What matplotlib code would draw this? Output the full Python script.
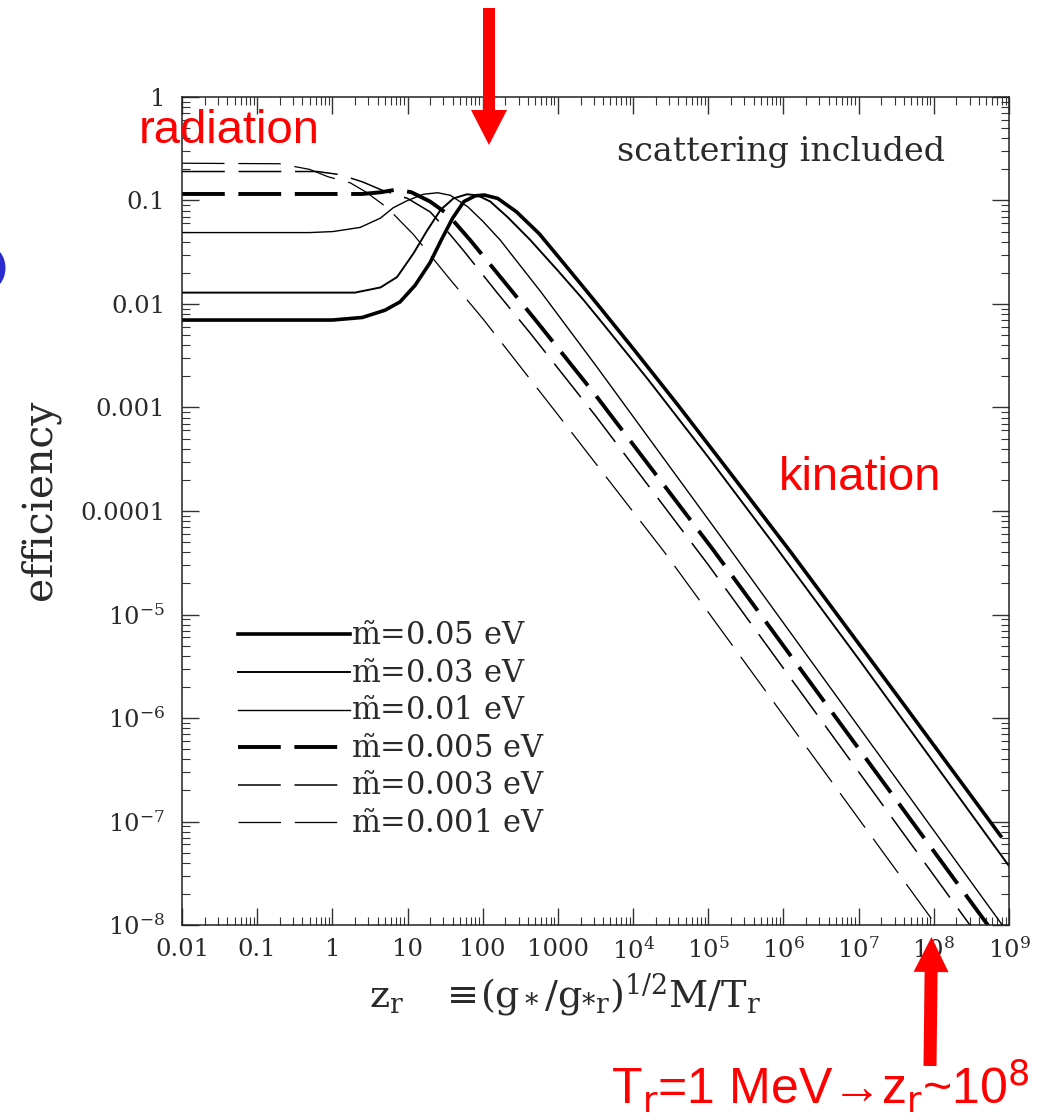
import numpy as np
import matplotlib
matplotlib.use("Agg")
import matplotlib.pyplot as plt
from matplotlib.patches import FancyArrow, Ellipse
from matplotlib.ticker import FixedLocator, FixedFormatter, LogLocator, NullFormatter

plt.rcParams["font.family"] = "DejaVu Serif"
plt.rcParams["mathtext.fontset"] = "dejavuserif"

# ── Curves: log10(z_r) and log10(efficiency) ─────────────────────────────────
LABELS = [r"$\tilde{\mathrm{m}}$=0.05 eV", r"$\tilde{\mathrm{m}}$=0.03 eV",
          r"$\tilde{\mathrm{m}}$=0.01 eV", r"$\tilde{\mathrm{m}}$=0.005 eV",
          r"$\tilde{\mathrm{m}}$=0.003 eV", r"$\tilde{\mathrm{m}}$=0.001 eV"]

LZ_005 = [-2, 0.0, 0.4, 0.7, 0.9, 1.1, 1.3, 1.45, 1.6, 1.75, 1.9, 2.02, 2.2, 2.45, 2.75, 3.07, 3.5, 4.0, 4.6, 5.3, 6.1, 7.5, 8.89]
LE_005 = [-2.155, -2.155, -2.13, -2.06, -1.98, -1.82, -1.6, -1.38, -1.17, -1.01, -0.955, -0.947, -0.98, -1.11, -1.32, -1.6, -1.98, -2.43, -2.98, -3.64, -4.4, -5.77, -7.14]

LZ_003 = [-2, 0.3, 0.64, 0.86, 1.08, 1.26, 1.44, 1.61, 1.79, 1.93, 2.1, 2.33, 2.63, 2.99, 3.34, 3.61, 4.2, 5.0, 5.86, 7.0, 9.0]
LE_003 = [-1.89, -1.89, -1.84, -1.74, -1.51, -1.29, -1.09, -0.98, -0.94, -0.95, -1.01, -1.16, -1.38, -1.67, -1.96, -2.2, -2.73, -3.48, -4.31, -5.43, -7.43]

LZ_001 = [-2, -0.3, 0.01, 0.37, 0.64, 0.81, 1.0, 1.21, 1.4, 1.57, 1.8, 2.0, 2.23, 2.77, 3.5, 5.3, 9.0]
LE_001 = [-1.31, -1.31, -1.3, -1.26, -1.17, -1.07, -1.0, -0.94, -0.925, -0.95, -1.06, -1.2, -1.38, -1.88, -2.59, -4.38, -8.09]

LZ_0005 = [-2, 0.4, 0.65, 0.85, 1.05, 1.3, 1.53, 1.83, 2.27, 2.73, 3.5, 5.07, 9.0]
LE_0005 = [-0.937, -0.937, -0.92, -0.895, -0.92, -1.01, -1.13, -1.38, -1.77, -2.18, -2.88, -4.38, -8.28]

LZ_0003 = [-2, -0.2, 0.1, 0.4, 0.66, 1.0, 1.3, 1.44, 1.74, 2.19, 2.63, 3.5, 5.0, 9.0]
LE_0003 = [-0.72, -0.72, -0.75, -0.82, -0.9, -0.98, -1.11, -1.22, -1.48, -1.89, -2.28, -3.08, -4.52, -8.52]

LZ_0001 = [-2, -0.7, -0.3, -0.06, 0.24, 0.45, 0.6, 0.73, 1.08, 1.54, 2.01, 3.0, 4.43, 8.1]
LE_0001 = [-0.64, -0.645, -0.7, -0.77, -0.83, -0.92, -1.0, -1.07, -1.33, -1.74, -2.15, -3.07, -4.41, -8.07]

X_TICKS = [1e-2, 1e-1, 1, 10, 100, 1000, 1e4, 1e5, 1e6, 1e7, 1e8, 1e9]
X_TICKLABELS = ["0.01", "0.1", "1", "10", "100", "1000", r"$10^4$", r"$10^5$",
                r"$10^6$", r"$10^7$", r"$10^8$", r"$10^9$"]
Y_TICKS = [1e-8, 1e-7, 1e-6, 1e-5, 1e-4, 1e-3, 1e-2, 1e-1, 1]
Y_TICKLABELS = [r"$10^{-8}$", r"$10^{-7}$", r"$10^{-6}$", r"$10^{-5}$", "0.0001",
                "0.001", "0.01", "0.1", "1"]

# (log z, log eff, linewidth, dashes)
CURVES = [
    (LZ_005, LE_005, 2.6, None),
    (LZ_003, LE_003, 1.4, None),
    (LZ_001, LE_001, 1.0, None),
    (LZ_0005, LE_0005, 2.8, (11, 3.5)),
    (LZ_0003, LE_0003, 1.1, (28, 9)),
    (LZ_0001, LE_0001, 0.9, (34, 11)),
]

TXT = "#2a2a2a"

fig = plt.figure(figsize=(10.43, 11.2), dpi=100)
ax = fig.add_axes([0.1745, 0.1741, 0.7929, 0.7393])

for (lz, le, lw, dash), label in zip(CURVES, LABELS):
    z = 10 ** np.array(lz)
    eff = 10 ** np.array(le)
    if dash is None:
        ax.plot(z, eff, color="black", lw=lw, label=label, solid_joinstyle="round")
    else:
        ax.plot(z, eff, color="black", lw=lw, label=label, dashes=dash,
                dash_capstyle="butt")

ax.set_xscale("log")
ax.set_yscale("log")
ax.set_xlim(1e-2, 1e9)
ax.set_ylim(1e-8, 1)

ax.xaxis.set_major_locator(FixedLocator(X_TICKS))
ax.xaxis.set_major_formatter(FixedFormatter(X_TICKLABELS))
ax.yaxis.set_major_locator(FixedLocator(Y_TICKS))
ax.yaxis.set_major_formatter(FixedFormatter(Y_TICKLABELS))
for axis in (ax.xaxis, ax.yaxis):
    axis.set_minor_locator(LogLocator(base=10, subs=np.arange(2, 10), numticks=30))
    axis.set_minor_formatter(NullFormatter())

ax.tick_params(which="both", direction="in", top=True, right=True, color="#333333",
               labelcolor=TXT)
ax.tick_params(which="major", length=12, width=1.0, labelsize=17.5)
ax.tick_params(which="minor", length=6, width=0.8)
ax.tick_params(axis="x", which="major", pad=9)
ax.tick_params(axis="y", which="major", pad=12)
for sp in ax.spines.values():
    sp.set_linewidth(1.1)
    sp.set_color("#222222")

ax.set_xlabel(r"$\mathrm{z_r}\ \ \ \equiv\!(\mathrm{g}_*/\mathrm{g}_{*\mathrm{r}})^{1/2}\mathrm{M}/\mathrm{T}_\mathrm{r}$",
              fontsize=27.5, color=TXT)
ax.xaxis.set_label_coords(0.463, -0.056)
ax.set_ylabel("efficiency", fontsize=29.5, color=TXT, va="center")
ax.yaxis.set_label_coords(-0.172, 0.513)

ax.text(0.9226, 0.9336, "scattering included", transform=ax.transAxes,
        ha="right", va="center", fontsize=24, color=TXT)

ax.legend(loc="upper left", bbox_to_anchor=(0.068, 0.367), frameon=False,
          fontsize=22, handlelength=3.65, handletextpad=0.05, labelspacing=0.215,
          borderpad=0, borderaxespad=0, labelcolor=TXT)

# ── Red annotations on a pixel overlay ───────────────────────────────────────
ov = fig.add_axes([0, 0, 1, 1], zorder=5)
ov.set_xlim(0, 1043)
ov.set_ylim(1120, 0)
ov.axis("off")
ov.patch.set_alpha(0)

ov.text(229, 131, "radiation", color="red", fontsize=34, family="Liberation Sans",
        ha="center", va="center")
ov.text(860, 478, "kination", color="red", fontsize=34, family="Liberation Sans",
        ha="center", va="center")
ov.text(1030, 1086, r"T$_\mathrm{r}$=1 MeV→z$_\mathrm{r}$~10$^8$", color="red",
        fontsize=36, family="Liberation Sans", math_fontfamily="dejavusans",
        ha="right", va="center")
# blue glyph cut off at the left edge of the slide
ov.add_patch(Ellipse((-13, 268), 30, 38, fill=False, edgecolor="#2b2bd0", lw=5))

ov.add_patch(FancyArrow(489, 8, 0, 137, width=12, head_width=36, head_length=35,
                        length_includes_head=True, color="red", lw=0))
ov.add_patch(FancyArrow(930, 1066, 1.5, -129, width=13, head_width=35, head_length=35,
                        length_includes_head=True, color="red", lw=0))

fig.savefig("out.png", dpi=100)
